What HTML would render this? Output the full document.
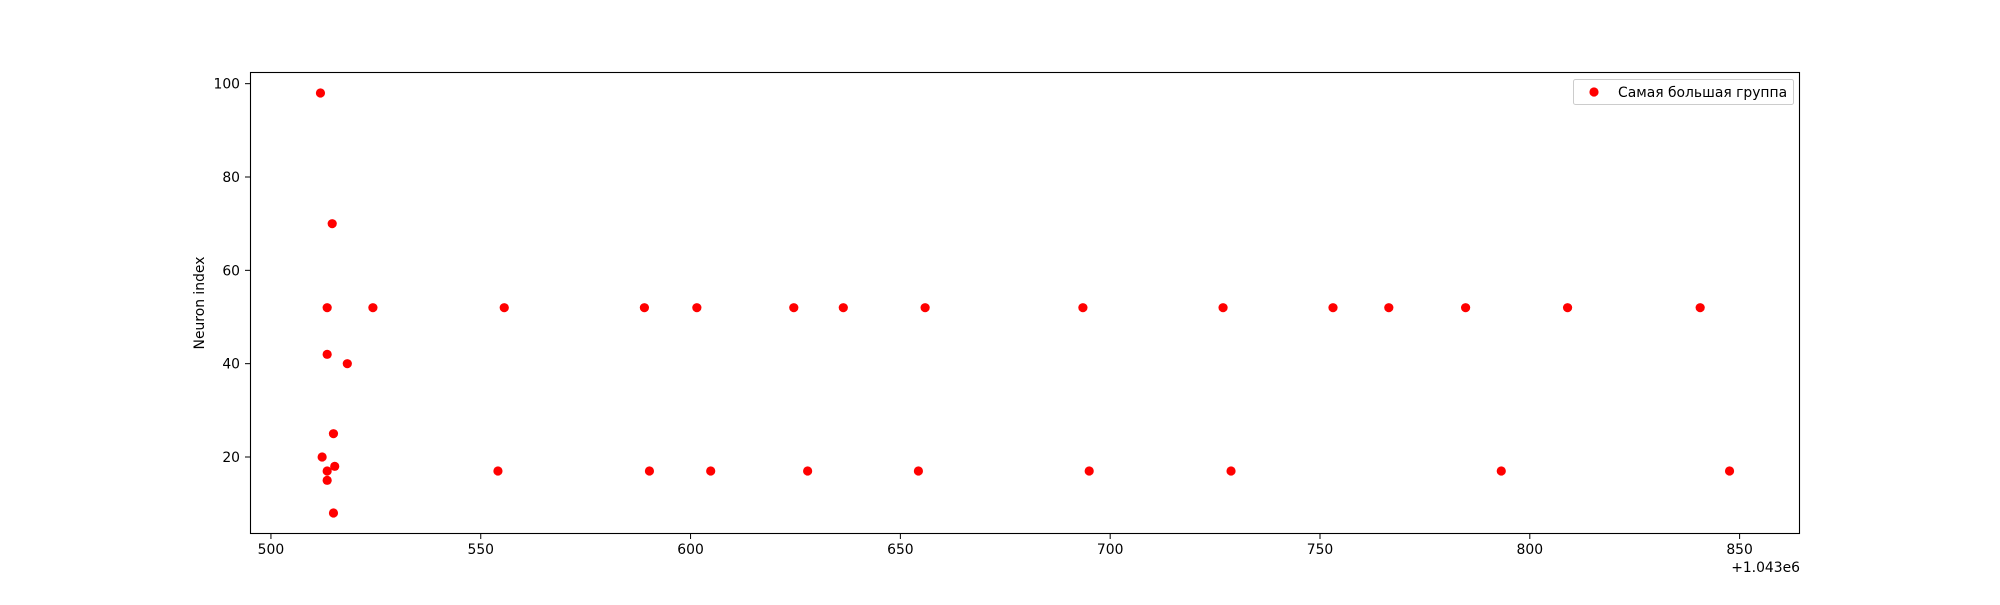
<!DOCTYPE html>
<html><head><meta charset="utf-8"><style>
html,body{margin:0;padding:0;background:#fff;}
svg text{font-family:"DejaVu Sans","Liberation Sans",sans-serif;font-size:13.9px;fill:#000;}
</style></head><body>
<svg id="chart" width="2000" height="600" xmlns="http://www.w3.org/2000/svg">
<rect width="2000" height="600" fill="#fff"/>
<g id="marks"></g>
<g id="axes"></g>
<rect x="250.5" y="72.5" width="1549" height="461" fill="none" stroke="#000" stroke-width="1.1"/>
<text transform="translate(204,303) rotate(-90)" text-anchor="middle">Neuron index</text>
<text x="1800" y="572" text-anchor="end">+1.043e6</text>
<g>
<rect x="1573.5" y="79.5" width="220" height="25" rx="2" fill="#fff" fill-opacity="0.8" stroke="#ccc"/>
<circle cx="1594" cy="92" r="4.6" fill="red"/>
<text x="1618" y="97">Самая большая группа</text>
</g>
</svg>
<script>
const xValues = [513.4,524.3,555.6,589.0,601.5,624.6,636.4,655.9,693.5,726.9,753.1,766.4,784.7,809.0,840.6,
554.1,590.2,604.8,627.9,654.3,695.0,728.8,793.2,847.6,
511.8,514.6,513.4,518.2,514.9,512.2,515.2,513.4,513.4,514.9];
const yValues = [52,52,52,52,52,52,52,52,52,52,52,52,52,52,52,
17,17,17,17,17,17,17,17,17,
98,70,42,40,25,20,18,17,15,8];
const xTicks = [500,550,600,650,700,750,800,850];
const yTicks = [20,40,60,80,100];

const NS="http://www.w3.org/2000/svg";
const xmin=Math.min(...xValues), xmaxv=Math.max(...xValues);
const ymin=Math.min(...yValues), ymaxv=Math.max(...yValues);
const xm=(xmaxv-xmin)*0.05, ym=(ymaxv-ymin)*0.05;
const X0=xmin-xm, X1=xmaxv+xm, Y0=ymin-ym, Y1=ymaxv+ym;
const xs=v=>250+(v-X0)/(X1-X0)*1550;
const ys=v=>534-(v-Y0)/(Y1-Y0)*462;
const marks=document.getElementById('marks');
xValues.forEach((x,i)=>{
  const c=document.createElementNS(NS,'circle');
  c.setAttribute('cx',xs(x));c.setAttribute('cy',ys(yValues[i]));
  c.setAttribute('r',4.6);c.setAttribute('fill','red');
  
  
  marks.appendChild(c);
});
const axes=document.getElementById('axes');
xTicks.forEach(t=>{
  const x=xs(t);
  const l=document.createElementNS(NS,'line');
  l.setAttribute('x1',x);l.setAttribute('x2',x);l.setAttribute('y1',534);l.setAttribute('y2',539);l.setAttribute('stroke','#000');
  
  
  axes.appendChild(l);
  const tx=document.createElementNS(NS,'text');
  tx.setAttribute('x',x);tx.setAttribute('y',554);tx.setAttribute('text-anchor','middle');tx.textContent=t;
  
  
  axes.appendChild(tx);
});
yTicks.forEach(t=>{
  const y=ys(t);
  const l=document.createElementNS(NS,'line');
  l.setAttribute('x1',245);l.setAttribute('x2',250);l.setAttribute('y1',y);l.setAttribute('y2',y);l.setAttribute('stroke','#000');
  
  
  axes.appendChild(l);
  const tx=document.createElementNS(NS,'text');
  tx.setAttribute('x',240);tx.setAttribute('y',y+5);tx.setAttribute('text-anchor','end');tx.textContent=t;
  
  
  axes.appendChild(tx);
});
</script>
</body></html>
